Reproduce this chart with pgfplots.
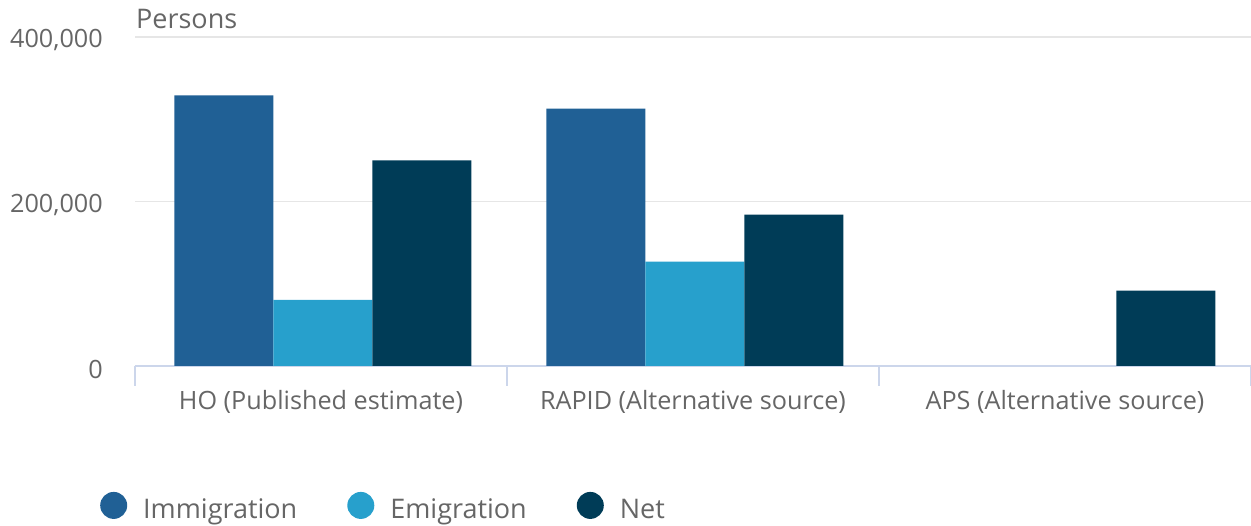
\documentclass[border=0pt]{standalone}
\usepackage{pgfplots}
\pgfplotsset{compat=1.18}
\usepackage{fontspec}
\setmainfont{Open Sans}
\definecolor{imm}{HTML}{206095}
\definecolor{emi}{HTML}{27A0CC}
\definecolor{net}{HTML}{003C57}
\definecolor{gridc}{HTML}{E6E6E6}
\definecolor{axc}{HTML}{CCD6EB}
\definecolor{txt}{HTML}{666666}
\begin{document}
\begin{tikzpicture}[font=\fontsize{25.2}{30}\selectfont]
\useasboundingbox (-135pt,-160pt) rectangle (1116pt,366pt);
\begin{axis}[
  at={(0pt,0pt)}, anchor=south west,
  scale only axis, width=1116pt, height=329pt,
  ybar=0pt, bar width=99pt,
  xmin=-0.5, xmax=2.5, ymin=0, ymax=400000,
  axis lines=left, axis line style={-},
  y axis line style={draw=none},
  x axis line style={draw=axc, line width=1.6pt},
  ymajorgrids, grid style={draw=gridc, line width=1.6pt},
  ytick={0,200000,400000},
  scaled y ticks=false,
  yticklabels={0,{200,000},{400,000}},
  yticklabel style={anchor=east, inner sep=0pt, xshift=-32pt, yshift=-3pt, text=txt},
  ytick style={draw=none},
  xtick={0,1,2},
  xticklabels={HO (Published estimate), RAPID (Alternative source), APS (Alternative source)},
  xticklabel style={anchor=base, inner sep=0pt, yshift=-44pt, text=txt},
  major tick length=0pt,
  xtick style={draw=axc, line width=1.6pt},
  extra x ticks={-0.5,0.5,1.5,2.5},
  extra x tick labels={},
  extra x tick style={tick align=outside, major tick length=20pt},
  legend image code/.code={\fill[#1,draw=none] (13.5pt,6pt) circle (13.5pt);},
  legend columns=3,
  legend style={at={(0,0)}, anchor=west, xshift=-35pt, yshift=-142pt, draw=none, fill=none, inner sep=0pt, text=txt,
    font=\fontsize{27}{32}\selectfont,
    /tikz/every odd column/.append style={column sep=16pt},
    /tikz/every even column/.append style={column sep=50pt}, nodes={inner sep=0pt}},
  legend cell align=left,
  clip=false,
]
\addplot[fill=imm, draw=none, bar shift=-97pt] coordinates {(0,329000) (1,313000)};
\addplot[fill=emi, draw=none, bar shift=2pt] coordinates {(0,80500) (1,127000)};
\addplot[fill=net, draw=none, bar shift=101pt] coordinates {(0,250000) (1,184000) (2,91500)};
\legend{\raisebox{4pt}{Immigration}, \raisebox{4pt}{Emigration}, \raisebox{4pt}{Net}}
\node[anchor=base west, text=txt, inner sep=0pt, font=\fontsize{27}{32}\selectfont] at ([shift={(1pt,8pt)}]rel axis cs:0,1) {Persons};
\end{axis}
\end{tikzpicture}
\end{document}
